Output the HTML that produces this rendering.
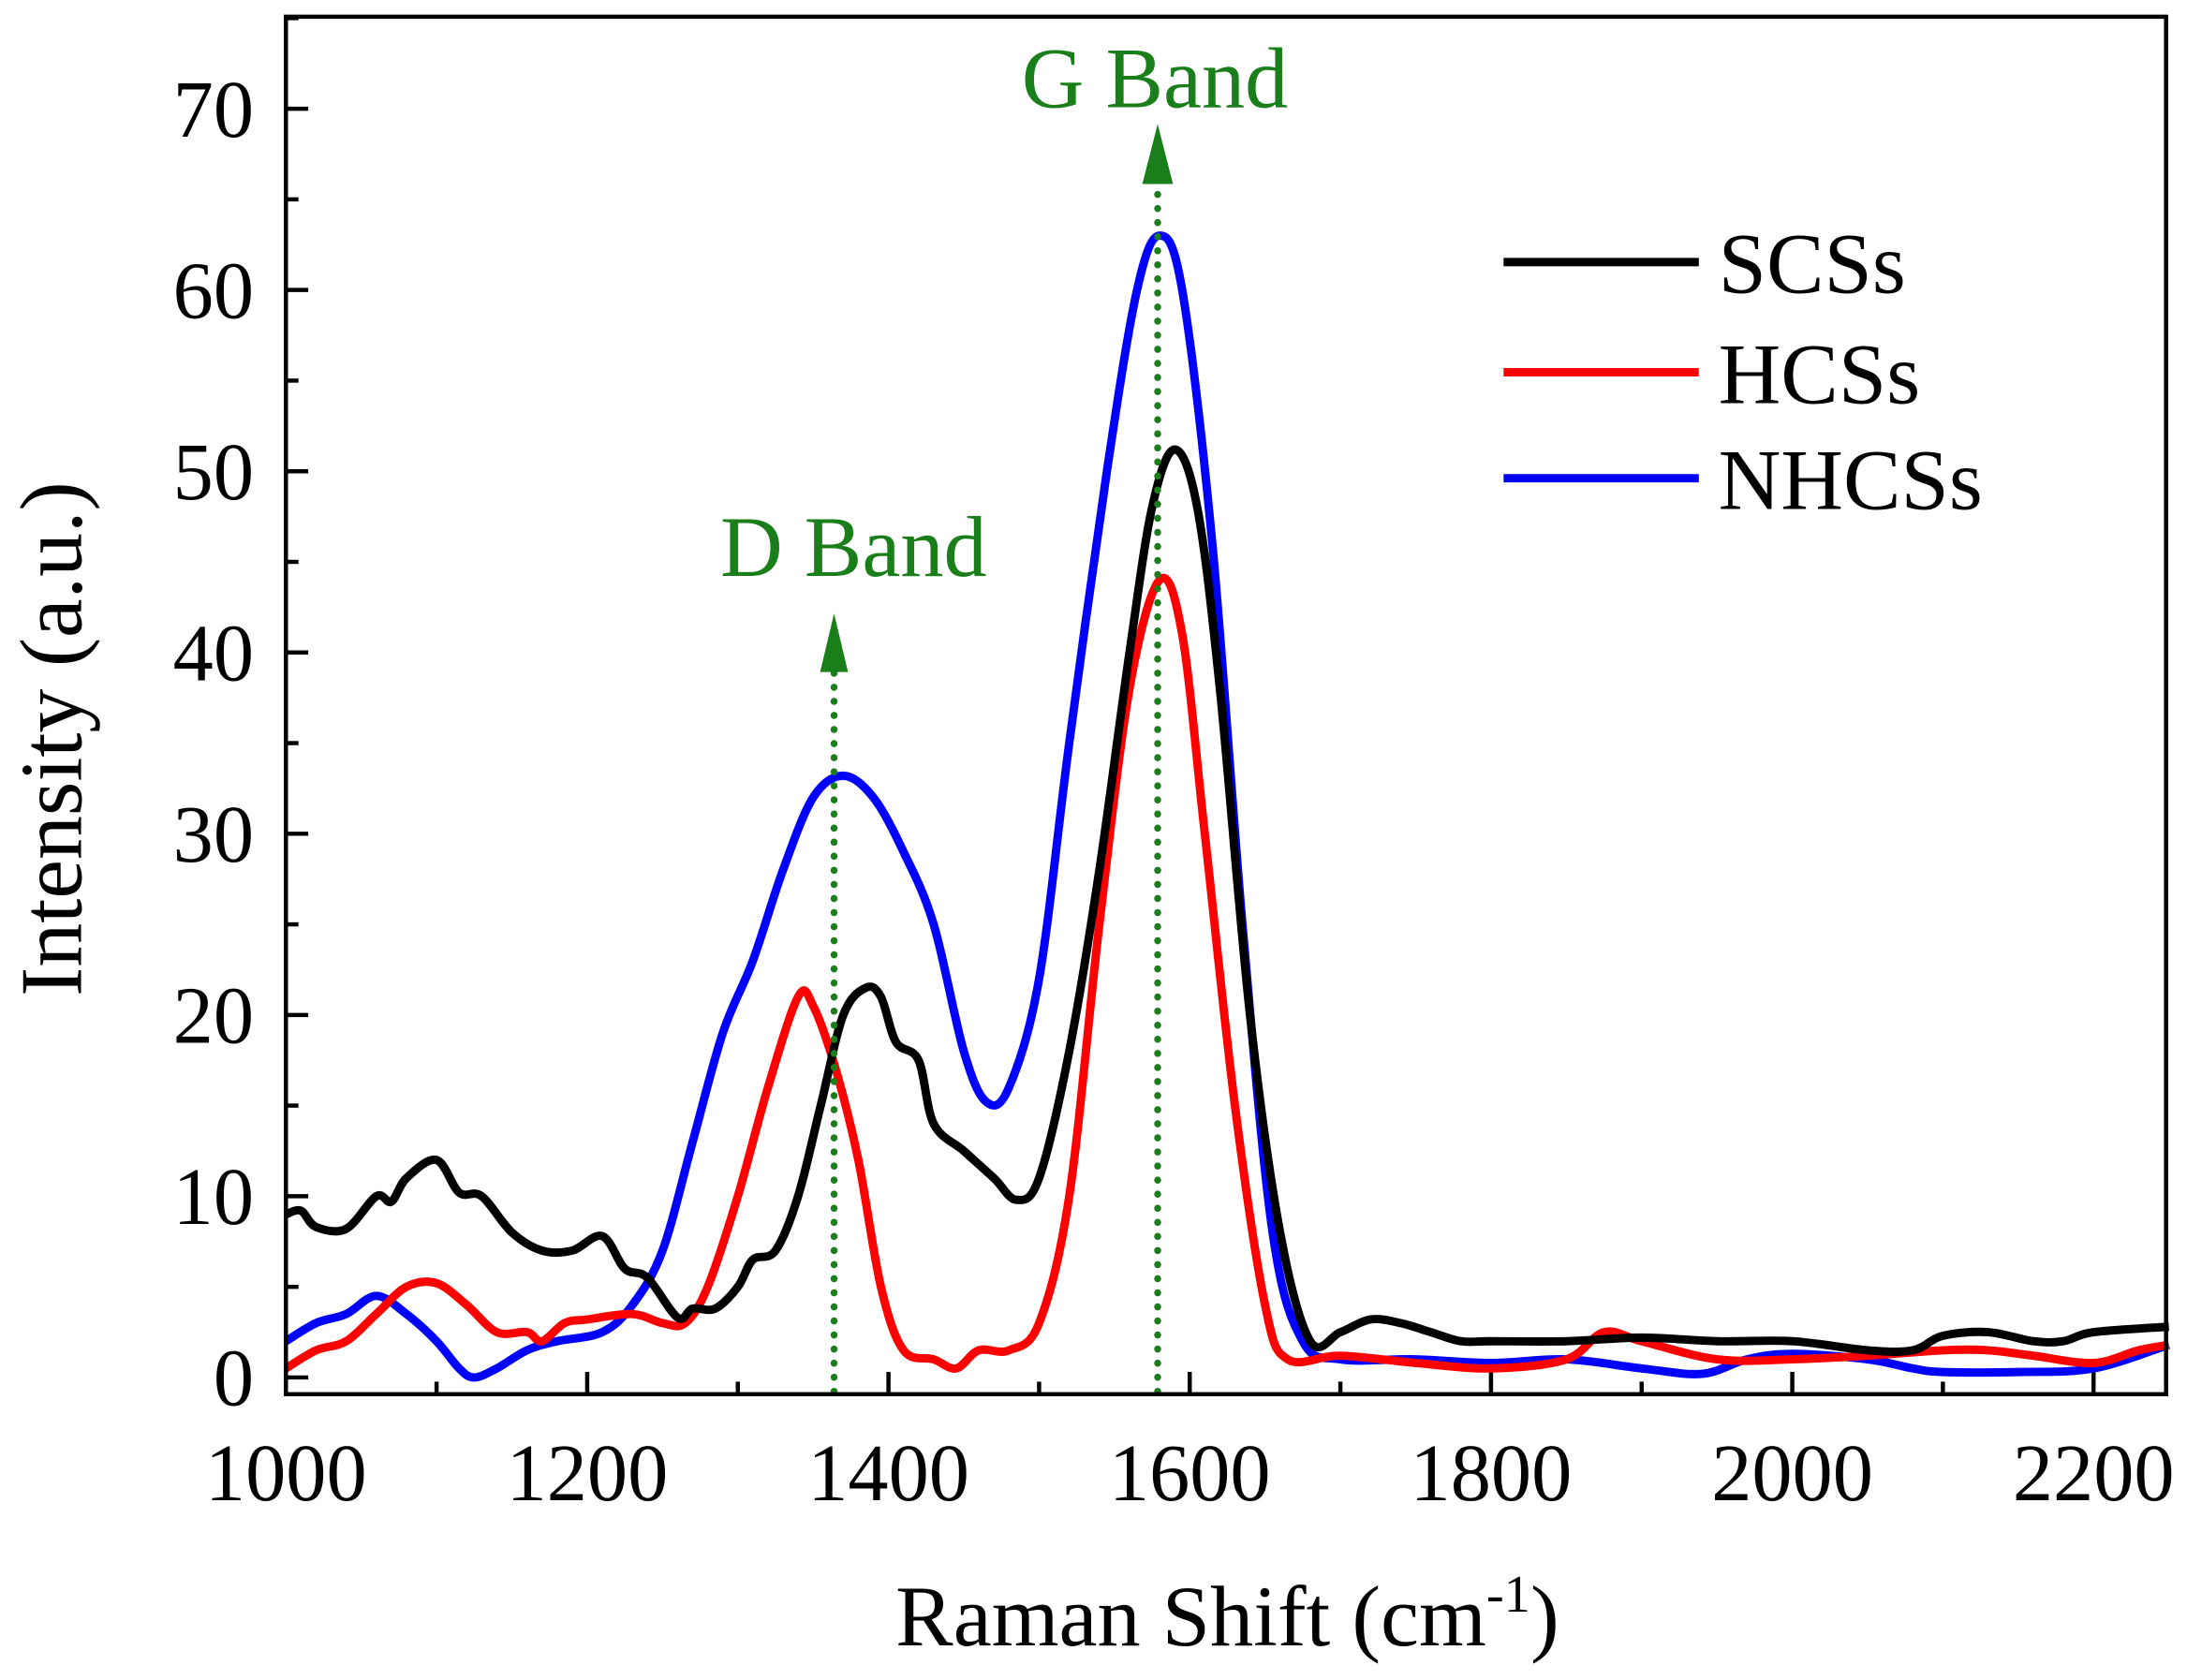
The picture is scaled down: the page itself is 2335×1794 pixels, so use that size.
<!DOCTYPE html>
<html><head><meta charset="utf-8"><style>
html,body{margin:0;padding:0;background:#fff;}
svg{display:block;}
text{font-family:"Liberation Serif",serif;}
</style></head><body>
<svg id="s" width="2335" height="1794" viewBox="0 0 1568 1205" preserveAspectRatio="none" xmlns="http://www.w3.org/2000/svg">
<rect width="1568" height="1205" fill="#fff"/>
<g id="ticks" stroke="#000" stroke-width="3"></g>
<g id="curves" fill="none" stroke-width="6" stroke-linejoin="round"></g>
<g stroke="#1a7f1a" stroke-width="5" stroke-dasharray="0.1 10" stroke-linecap="round">
<line x1="598" y1="998" x2="598" y2="480"/>
<line x1="830" y1="998" x2="830" y2="135"/>
</g>
<polygon points="598,440 588,482 608,482" fill="#1a7f1a"/>
<polygon points="830,89 819,132 841,132" fill="#1a7f1a"/>
<text x="612" y="413" font-size="62" fill="#1a7f1a" text-anchor="middle">D Band</text>
<text x="828" y="77" font-size="62" fill="#1a7f1a" text-anchor="middle">G Band</text>
<rect x="205" y="12" width="1348" height="988" fill="none" stroke="#000" stroke-width="3"/>
<g stroke-width="6">
<line x1="1078" y1="188" x2="1218" y2="188" stroke="#000"/>
<line x1="1078" y1="267" x2="1218" y2="267" stroke="#f00"/>
<line x1="1078" y1="343" x2="1218" y2="343" stroke="#00f"/>
</g>
<g font-size="62" fill="#000">
<text x="1232" y="210">SCSs</text>
<text x="1232" y="289">HCSs</text>
<text x="1232" y="365">NHCSs</text>
</g>
<g id="labels" font-size="58" fill="#000"></g>
<text x="880" y="1180" font-size="62" text-anchor="middle">Raman Shift (cm<tspan dy="-24" font-size="38">-1</tspan><tspan dy="24">)</tspan></text>
<text transform="translate(58,530) rotate(-90)" font-size="63" text-anchor="middle">Intensity (a.u.)</text>
</svg>
<script>
const X=v=>205+(v-1000)*1.08, Y=i=>988-13*i;
const NS="http://www.w3.org/2000/svg";
const tk=document.getElementById('ticks'), lb=document.getElementById('labels');
function el(p,tag,a,t){const e=document.createElementNS(NS,tag);for(const k in a)e.setAttribute(k,a[k]);if(t)e.textContent=t;p.appendChild(e);}
for(let v=1000;v<=2250;v+=100){const x=X(v),L=(v%200==0)?16:9;el(tk,'line',{x1:x,y1:1000,x2:x,y2:1000-L});
 if(v%200==0&&v<=2200)el(lb,'text',{x:x,y:1076,'text-anchor':'middle'},String(v));}
for(let i=0;i<=75;i+=5){const y=Y(i),L=(i%10==0)?16:9;el(tk,'line',{x1:205,y1:y,x2:205+L,y2:y});
 if(i%10==0)el(lb,'text',{x:182,y:y+20,'text-anchor':'end'},String(i));}
const D={
"#000":[[1000,9],[1010,9.2],[1020,8.3],[1040,8.2],[1060,10],[1070,9.7],[1080,11],[1100,12],[1115,10.2],[1130,10],[1150,8],[1170,7],[1190,7],[1210,7.8],[1225,6],[1240,5.5],[1260,3.3],[1270,3.8],[1285,3.8],[1300,5],[1310,6.5],[1325,7],[1340,10],[1355,15],[1370,20],[1385,21.5],[1395,21],[1405,18.5],[1420,17.5],[1430,14],[1450,12.5],[1470,11],[1485,9.8],[1500,11],[1520,18],[1540,28],[1560,40],[1575,48],[1590,51.2],[1605,48],[1620,38],[1640,20],[1660,8],[1680,2],[1700,2.5],[1720,3.2],[1740,3],[1760,2.5],[1780,2],[1800,2],[1850,2],[1900,2.2],[1950,2],[2000,2],[2050,1.5],[2080,1.5],[2100,2.3],[2130,2.5],[2160,2],[2180,2],[2200,2.5],[2250,2.8]],
"#f00":[[1000,0.5],[1020,1.5],[1040,2],[1060,3.5],[1080,5],[1100,5.2],[1120,4],[1140,2.5],[1160,2.5],[1170,2],[1185,3],[1200,3.2],[1230,3.5],[1250,3],[1265,3],[1280,5],[1300,10],[1320,16],[1340,21],[1350,20.5],[1365,17],[1380,12],[1395,5],[1410,1.5],[1430,1],[1445,0.5],[1460,1.5],[1480,1.5],[1500,3],[1520,10],[1540,25],[1560,38],[1580,44],[1595,41],[1610,30],[1630,15],[1650,4],[1665,1],[1700,1.2],[1750,0.8],[1800,0.5],[1850,1],[1875,2.5],[1900,2],[1950,1],[2000,1],[2050,1.2],[2100,1.5],[2130,1.5],[2160,1.2],[2200,0.8],[2230,1.5],[2250,1.8]],
"#00f":[[1000,2],[1020,3],[1040,3.5],[1060,4.5],[1080,3.5],[1100,2],[1115,0.5],[1125,0],[1140,0.5],[1160,1.5],[1180,2],[1210,2.5],[1230,4],[1250,7],[1270,13],[1290,19],[1310,23],[1330,28],[1350,32],[1370,33.2],[1390,32],[1410,29],[1430,25],[1450,18],[1465,15.2],[1480,16],[1500,22],[1520,35],[1545,50],[1565,60],[1580,63],[1595,60],[1615,46],[1635,25],[1655,8],[1675,2],[1700,1],[1750,1],[1800,0.8],[1850,1],[1900,0.5],[1940,0.2],[1970,1],[2000,1.3],[2050,1],[2080,0.5],[2100,0.3],[2150,0.3],[2200,0.5],[2250,1.8]]};
const cv=document.getElementById('curves');
for(const c of ["#00f","#f00","#000"]){const p=D[c].map(([v,i])=>[X(v),Y(i)]);let d="M"+p[0];
 for(let k=0;k<p.length-1;k++){const a=p[Math.max(k-1,0)],b=p[k],e=p[k+1],f=p[Math.min(k+2,p.length-1)];
  const c1=[b[0]+(e[0]-a[0])/6,b[1]+(e[1]-a[1])/6],c2=[e[0]-(f[0]-b[0])/6,e[1]-(f[1]-b[1])/6];
  d+=" C"+c1+" "+c2+" "+e;}
 el(cv,'path',{d:d,stroke:c});}
</script>
</body></html>
